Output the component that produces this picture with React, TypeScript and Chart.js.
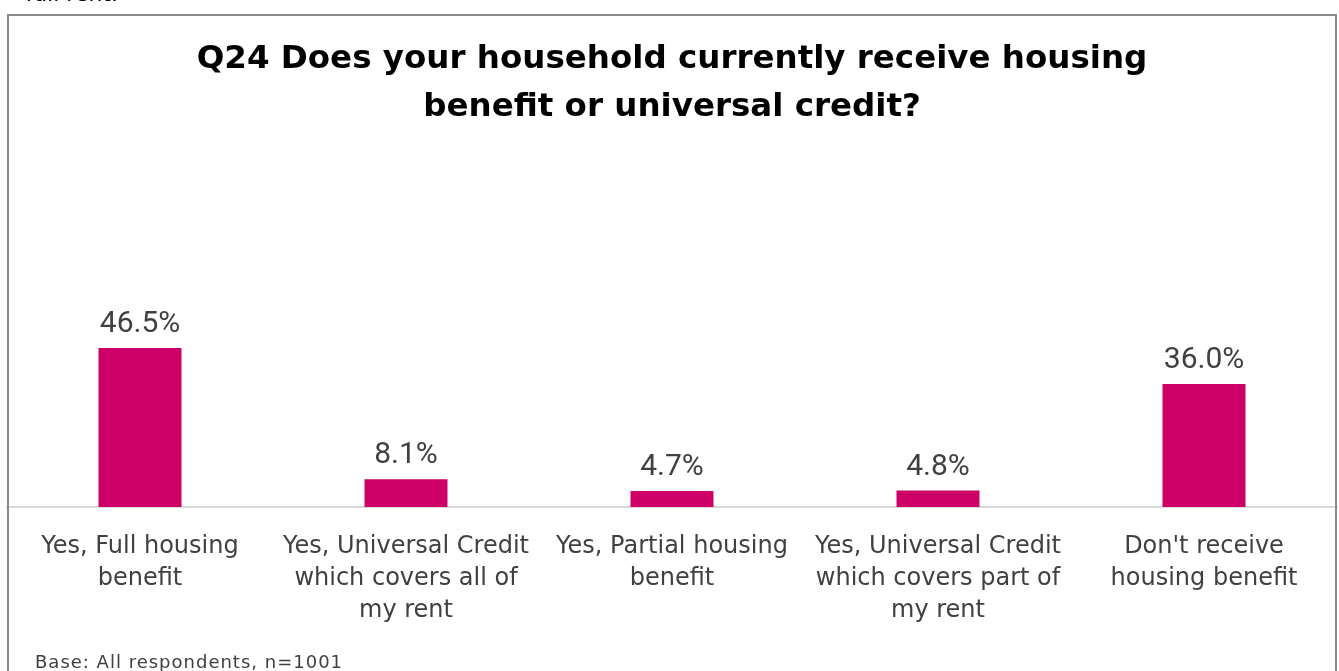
import React, { useEffect, useRef } from "react";
import { Chart, registerables } from "chart.js";

Chart.register(...registerables);

const TITLE_LINES = [
  "Q24 Does your household currently receive housing",
  "benefit or universal credit?",
];

const CATEGORIES: string[][] = [
  ["Yes, Full housing", "benefit"],
  ["Yes, Universal Credit", "which covers all of", "my rent"],
  ["Yes, Partial housing", "benefit"],
  ["Yes, Universal Credit", "which covers part of", "my rent"],
  ["Don't receive", "housing benefit"],
];

const VALUES = [46.5, 8.1, 4.7, 4.8, 36.0];

const BASE_NOTE = "Base: All respondents, n=1001";
const TOP_FRAGMENT = "full rent.";

const BAR_COLOR = "#CC0066";
const TEXT_COLOR = "#404040";

const dataLabelPlugin = {
  id: "dataLabels",
  afterDatasetsDraw(chart: any) {
    const ctx = chart.ctx;
    const meta = chart.getDatasetMeta(0);
    ctx.save();
    ctx.font = "30px Roboto";
    ctx.fillStyle = TEXT_COLOR;
    ctx.textAlign = "center";
    ctx.textBaseline = "alphabetic";
    meta.data.forEach((bar: any, i: number) => {
      const v = chart.data.datasets[0].data[i] as number;
      ctx.fillText(v.toFixed(1) + "%", bar.x, bar.y - 16);
    });
    ctx.restore();
  },
};

export default function App() {
  const canvasRef = useRef<HTMLCanvasElement>(null);

  useEffect(() => {
    if (!canvasRef.current) return;
    const chart = new Chart(canvasRef.current, {
      type: "bar",
      data: {
        labels: CATEGORIES,
        datasets: [
          {
            data: VALUES,
            backgroundColor: BAR_COLOR,
            borderWidth: 0,
            barPercentage: 0.312,
            categoryPercentage: 1,
          },
        ],
      },
      options: {
        responsive: false,
        animation: false,
        layout: { padding: { left: 7, right: 2, top: 0, bottom: 20 } },
        plugins: {
          legend: { display: false },
          tooltip: { enabled: false },
          title: {
            display: true,
            text: TITLE_LINES,
            color: "#000000",
            font: { family: "DejaVu Sans", size: 32.5, weight: "bold", lineHeight: 48 / 32.5 },
            padding: { top: 36, bottom: 204 },
          },
        },
        scales: {
          x: {
            grid: { display: false, drawTicks: false },
            border: { display: true, color: "#d9d9d9", width: 2 },
            ticks: {
              color: TEXT_COLOR,
              font: { family: "DejaVu Sans", size: 24, lineHeight: 32 / 24 },
              padding: 24,
              maxRotation: 0,
              autoSkip: false,
            },
          },
          y: {
            display: false,
            min: 0,
            max: 50,
          },
        },
      },
      plugins: [dataLabelPlugin],
    });
    return () => chart.destroy();
  }, []);

  return (
    <div
      style={{
        position: "fixed",
        left: 0,
        top: 0,
        width: 1339,
        height: 671,
        overflow: "hidden",
        background: "#ffffff",
      }}
    >
      <canvas
        ref={canvasRef}
        width={1339}
        height={671}
        style={{ position: "absolute", left: 0, top: 0, width: 1339, height: 671 }}
      />
      <div
        style={{
          position: "absolute",
          right: 1339 - 118,
          top: -17,
          fontFamily: "DejaVu Sans",
          fontSize: 22,
          lineHeight: "22px",
          color: "#000",
          whiteSpace: "nowrap",
        }}
      >
        {TOP_FRAGMENT}
      </div>
      <div
        style={{
          position: "absolute",
          left: 7,
          top: 14,
          width: 1330,
          height: 720,
          border: "2px solid #8a8a8a",
          boxSizing: "border-box",
          pointerEvents: "none",
        }}
      />
      <div
        style={{
          position: "absolute",
          left: 35,
          top: 653,
          fontFamily: "DejaVu Sans",
          fontSize: 18,
          lineHeight: "18px",
          letterSpacing: 1,
          color: TEXT_COLOR,
          whiteSpace: "nowrap",
        }}
      >
        {BASE_NOTE}
      </div>
    </div>
  );
}
